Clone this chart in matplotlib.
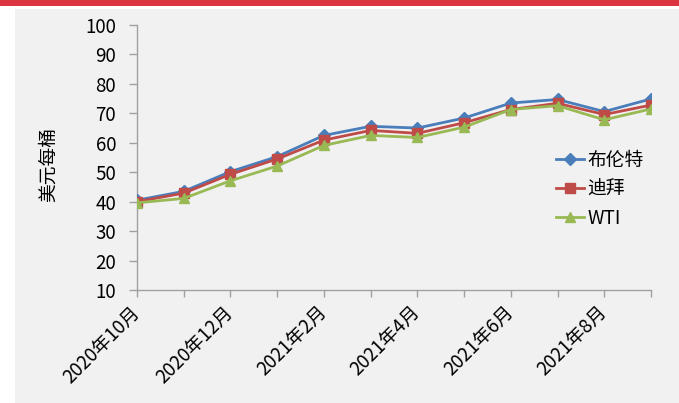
"""
Monthly crude oil prices: Brent vs Dubai vs WTI
"""

import matplotlib
matplotlib.use('Agg')
import matplotlib.pyplot as plt
from matplotlib.patches import Rectangle

plt.rcParams['font.family'] = ['Noto Sans CJK SC', 'DejaVu Sans']

# -----------------------------
# data (USD per barrel)
months = ['2020年10月', '2020年11月', '2020年12月', '2021年1月', '2021年2月', '2021年3月',
          '2021年4月', '2021年5月', '2021年6月', '2021年7月', '2021年8月', '2021年9月']
brent = [40.5, 43.5, 50.2, 55.3, 62.5, 65.6, 65.0, 68.4, 73.5, 74.7, 70.6, 74.9]
dubai = [40.0, 42.9, 49.3, 54.5, 60.9, 64.2, 63.2, 66.8, 71.3, 73.4, 69.6, 72.8]
wti = [39.6, 41.1, 47.1, 52.1, 59.1, 62.5, 61.8, 65.3, 71.3, 72.6, 67.8, 71.5]

series_names = ['布伦特', '迪拜', 'WTI']
yticks = list(range(10, 101, 10))

W, H = 679, 403
fig = plt.figure(figsize=(W / 100, H / 100), dpi=100)
fig.patch.set_facecolor('white')

# red strip on top and grey panel behind the chart
fig.patches.append(Rectangle((0, 1 - 6 / H), 1, 6 / H, transform=fig.transFigure,
                             facecolor='#db3541', edgecolor='none', zorder=-2))
fig.patches.append(Rectangle((15 / W, 0), 1 - 15 / W, 1 - 9 / H, transform=fig.transFigure,
                             facecolor='#f1f1f1', edgecolor='none', zorder=-2))

ax = fig.add_axes([137 / W, 1 - 290 / H, (651 - 137) / W, (290 - 25) / H])
ax.set_facecolor('none')
ax.set_zorder(1)

x = list(range(len(months)))
ax.plot(x, brent, color='#4a7ebb', lw=2, marker='D', ms=6, label=series_names[0], zorder=3)
ax.plot(x, dubai, color='#be4b48', lw=2, marker='s', ms=6.5, label=series_names[1], zorder=3)
ax.plot(x, wti, color='#98b954', lw=2, marker='^', ms=7.5, label=series_names[2], zorder=3)

ax.set_xlim(0, len(months) - 1)
ax.set_ylim(10, 100)
ax.set_yticks(yticks)
ax.set_xticks(x)
ax.set_xticklabels([m if i % 2 == 0 else '' for i, m in enumerate(months)],
                   rotation=45, ha='right', va='center', rotation_mode='anchor', fontsize=13.5)
ax.tick_params(axis='x', length=5, width=1, color='#a0a0a0', pad=9)
ax.tick_params(axis='y', length=6, width=1, color='#a0a0a0', pad=9, labelsize=13.5)

for side in ['top', 'right']:
    ax.spines[side].set_visible(False)
for side in ['left', 'bottom']:
    ax.spines[side].set_color('#a0a0a0')
    ax.spines[side].set_linewidth(1)

ax.set_ylabel('美元每桶', fontsize=13.5)
ax.yaxis.set_label_coords(-0.152, 0.472)

ax.legend(loc='center left', bbox_to_anchor=(0.8, 0.38), frameon=False, fontsize=13.5,
          handlelength=1.5, handletextpad=0.2, labelspacing=0.42, borderaxespad=0)

plt.savefig('out.png', dpi=100)
